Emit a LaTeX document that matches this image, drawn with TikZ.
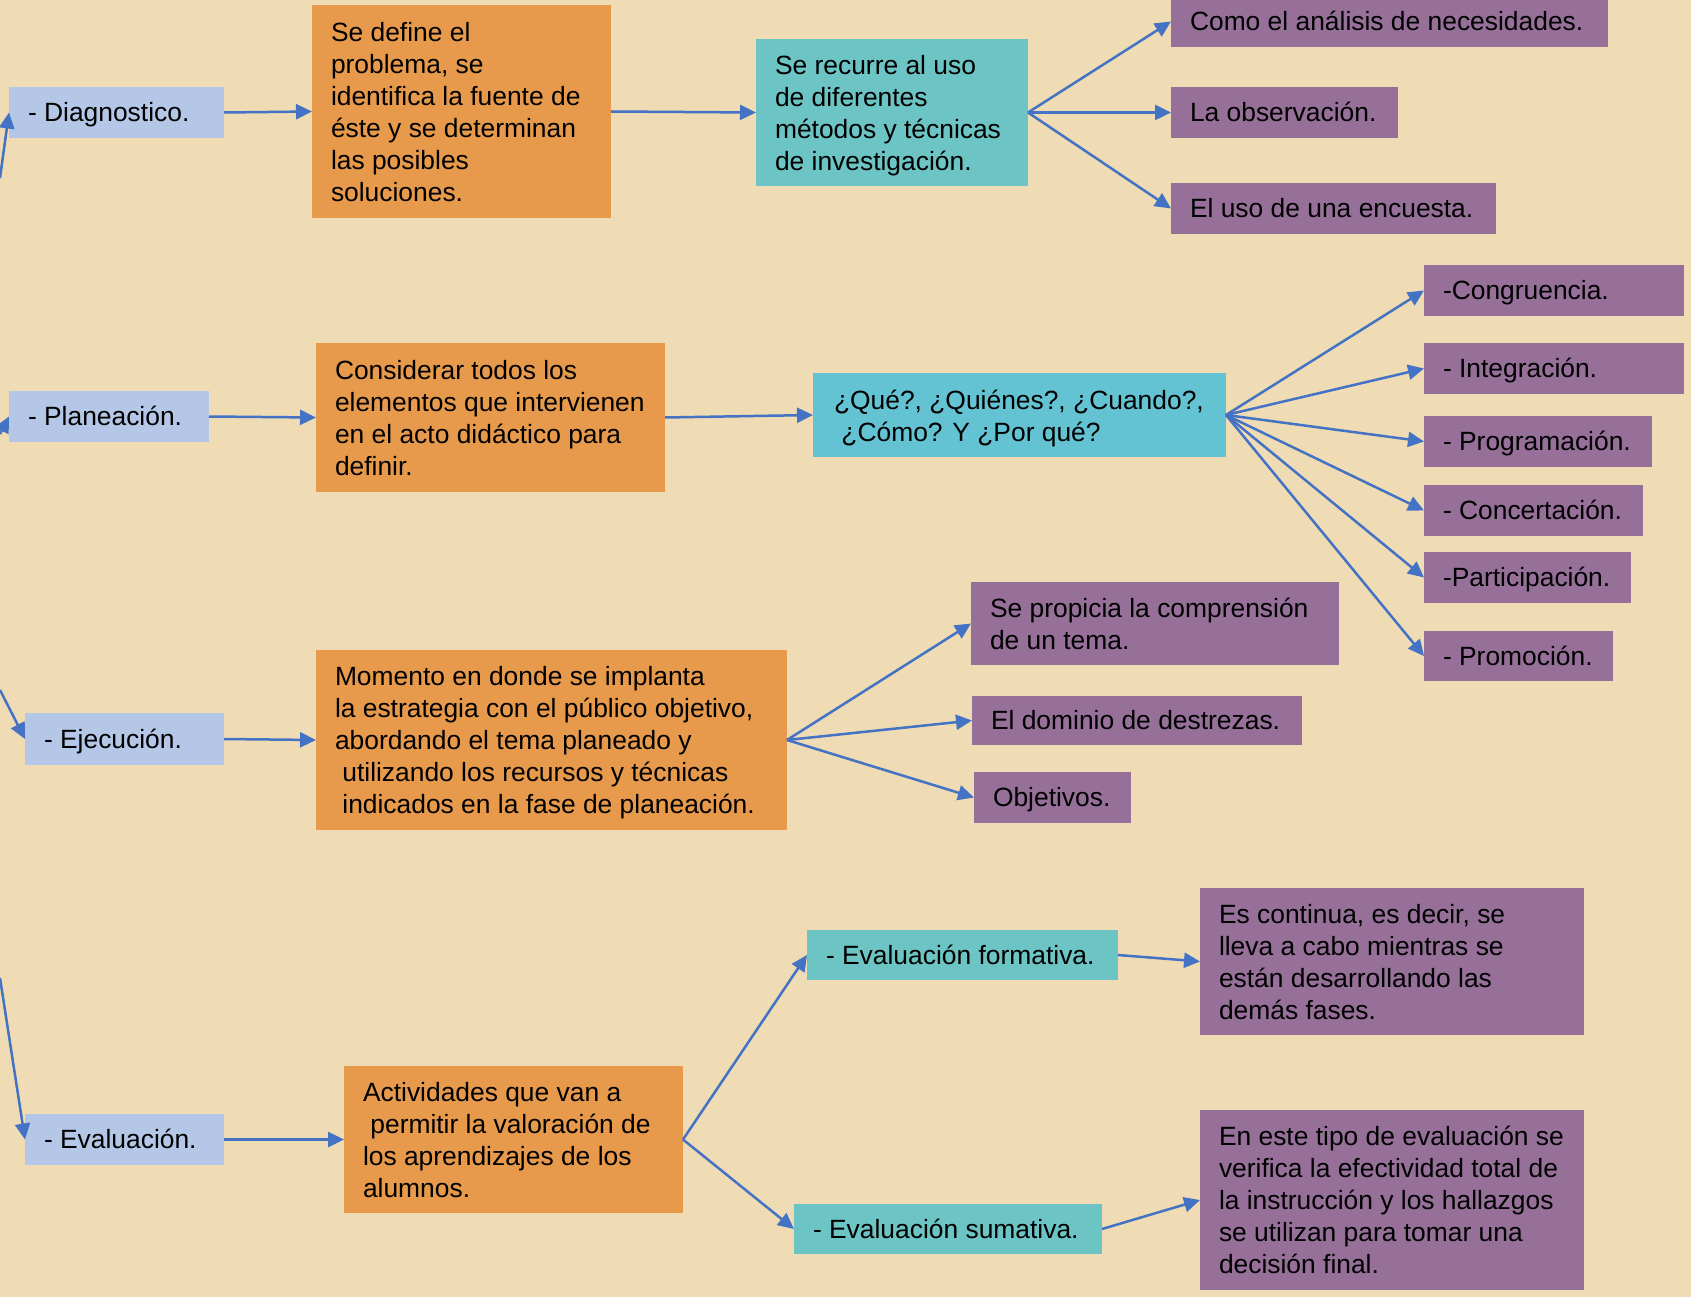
\documentclass[tikz,border=0pt]{standalone}
\usepackage{fontspec}
\setmainfont{Liberation Sans}
\usetikzlibrary{arrows.meta,fit}
\definecolor{bgpaper}{HTML}{EFDCB4}
\definecolor{lblue}{HTML}{B4C7E7}
\definecolor{orng}{HTML}{E79A4B}
\definecolor{tealA}{HTML}{6CC4C4}
\definecolor{tealB}{HTML}{63C3D2}
\definecolor{purp}{HTML}{967099}
\definecolor{arrblue}{HTML}{4472C4}
\tikzset{
  boxbase/.style={rectangle, draw=none, inner sep=0pt, outer sep=0pt},
  txt/.style={align=left, inner sep=0pt, outer sep=0pt, text=black,
              font=\fontsize{26.4}{32}\selectfont},
  oneline/.style={text height=18.9pt, text depth=0pt, yshift=2.75pt},
  arr/.style={draw=arrblue, line width=2.5pt, -{Triangle[length=16pt,width=15pt]}},
}
\newcommand\mkbox[8][]{%
  \node[boxbase, fill=#3, fit={(#4,#5) (#6,#7)}] (#2) {};
  \node[txt, anchor=west, yshift=-2.75pt, #1] (#2t) at ([xshift=19pt]#2.west) {#8\rule[-5.5pt]{0pt}{0pt}};
}
\newcommand\ls{\hspace*{0.28em}}
\begin{document}
\begin{tikzpicture}[x=1pt, y=-1pt]
\path[use as bounding box, fill=bgpaper] (0,0) rectangle (1691,1297);
\clip (0,0) rectangle (1691,1297);

% left column
\mkbox[oneline]{diag}{lblue}{9}{87}{224}{138}{- Diagnostico.}
\mkbox[oneline]{plan}{lblue}{9}{391}{209}{442}{- Planeación.}
\mkbox[oneline]{ejec}{lblue}{25}{713}{224}{765}{- Ejecución.}
\mkbox[oneline]{eval}{lblue}{25}{1114}{224}{1165}{- Evaluación.}

% orange column
\mkbox{oa}{orng}{312}{5}{611}{218}{Se define el\\problema, se\\identifica la fuente de\\éste y se determinan\\las posibles\\soluciones.}
\mkbox{ob}{orng}{316}{343}{665}{492}{Considerar todos los\\elementos que intervienen\\en el acto didáctico para\\definir.}
\mkbox{oc}{orng}{316}{650}{787}{830}{Momento en donde se implanta\\la estrategia con el público objetivo,\\abordando el tema planeado y\\\ls utilizando los recursos y técnicas\\\ls indicados en la fase de planeación.}
\mkbox{od}{orng}{344}{1066}{683}{1213}{Actividades que van a\\\ls permitir la valoración de\\los aprendizajes de los\\alumnos.}

% teal
\mkbox{ta}{tealA}{756}{39}{1028}{186}{Se recurre al uso\\de diferentes\\métodos y técnicas\\de investigación.}
\mkbox[xshift=2pt, yshift=-1pt]{tb}{tealB}{813}{373}{1226}{457}{¿Qué?, ¿Quiénes?, ¿Cuando?,\\\ls ¿Cómo? Y ¿Por qué?}
\mkbox[oneline]{tf}{tealA}{807}{930}{1118}{980}{- Evaluación formativa.}
\mkbox[oneline]{ts}{tealA}{794}{1204}{1102}{1254}{- Evaluación sumativa.}

% purple
\mkbox[oneline]{pa}{purp}{1171}{-4}{1608}{47}{Como el análisis de necesidades.}
\mkbox[oneline]{pb}{purp}{1171}{87}{1398}{138}{La observación.}
\mkbox[oneline]{pc}{purp}{1171}{183}{1496}{234}{El uso de una encuesta.}
\mkbox[oneline]{qa}{purp}{1424}{265}{1684}{316}{-Congruencia.}
\mkbox[oneline]{qb}{purp}{1424}{343}{1684}{394}{- Integración.}
\mkbox[oneline]{qc}{purp}{1424}{416}{1652}{467}{- Programación.}
\mkbox[oneline]{qd}{purp}{1424}{485}{1643}{536}{- Concertación.}
\mkbox[oneline]{qe}{purp}{1424}{552}{1631}{603}{-Participación.}
\mkbox[oneline]{qf}{purp}{1424}{631}{1613}{681}{- Promoción.}
\mkbox{ea}{purp}{971}{582}{1339}{665}{Se propicia la comprensión\\de un tema.}
\mkbox[oneline]{eb}{purp}{972}{696}{1302}{745}{El dominio de destrezas.}
\mkbox[oneline]{ec}{purp}{974}{772}{1131}{823}{Objetivos.}
\mkbox{fa}{purp}{1200}{888}{1584}{1035}{Es continua, es decir, se\\lleva a cabo mientras se\\están desarrollando las\\demás fases.}
\mkbox{fb}{purp}{1200}{1110}{1584}{1290}{En este tipo de evaluación se\\verifica la efectividad total de\\la instrucción y los hallazgos\\se utilizan para tomar una\\decisión final.}

% free ends at the left edge
\coordinate (r1) at (0,178);
\coordinate (r2) at (0,434);
\coordinate (r3) at (0,690);
\coordinate (r4) at (0,978);

\draw[arr] (r1) -- (diag.west);
\draw[arr] (r2) -- (plan.west);
\draw[arr] (r3) -- (ejec.west);
\draw[arr] (r4) -- (eval.west);

\draw[arr] (diag.east) -- (oa.west);
\draw[arr] (oa.east) -- (ta.west);
\draw[arr] (ta.east) -- (pa.west);
\draw[arr] (ta.east) -- (pb.west);
\draw[arr] (ta.east) -- (pc.west);

\draw[arr] (plan.east) -- (ob.west);
\draw[arr] (ob.east) -- (tb.west);
\foreach \q in {qa,qb,qc,qd,qe,qf}{\draw[arr] (tb.east) -- (\q.west);}

\draw[arr] (ejec.east) -- (oc.west);
\foreach \q in {ea,eb,ec}{\draw[arr] (oc.east) -- (\q.west);}

\draw[arr] (eval.east) -- (od.west);
\draw[arr] (od.east) -- (tf.west);
\draw[arr] (od.east) -- (ts.west);
\draw[arr] (tf.east) -- (fa.west);
\draw[arr] (ts.east) -- (fb.west);
\end{tikzpicture}
\end{document}
